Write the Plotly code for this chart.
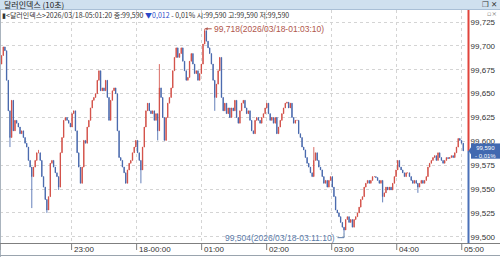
import plotly.graph_objects as go
import pandas as pd

# ---------------- data ----------------
closes = [
    99.681, 99.690, 99.699, 99.695, 99.664, 99.632, 99.604, 99.643, 99.611, 99.622,
    99.619, 99.615, 99.608, 99.611, 99.604, 99.598, 99.594, 99.580, 99.573, 99.563,
    99.573, 99.580, 99.588, 99.588, 99.580, 99.563, 99.552, 99.539, 99.528, 99.542,
    99.577, 99.580, 99.573, 99.567, 99.563, 99.552, 99.588, 99.604, 99.622, 99.625,
    99.622, 99.619, 99.615, 99.629, 99.632, 99.611, 99.588, 99.573, 99.556, 99.573,
    99.601, 99.598, 99.615, 99.622, 99.635, 99.643, 99.646, 99.650, 99.664, 99.674,
    99.653, 99.656, 99.653, 99.664, 99.646, 99.622, 99.643, 99.653, 99.656, 99.650,
    99.611, 99.583, 99.580, 99.573, 99.567, 99.556, 99.570, 99.577, 99.580, 99.588,
    99.594, 99.601, 99.588, 99.580, 99.570, 99.594, 99.615, 99.632, 99.640, 99.632,
    99.629, 99.632, 99.622, 99.629, 99.611,
    99.656, 99.646, 99.625, 99.601, 99.625, 99.640, 99.646, 99.656, 99.674, 99.688,
    99.698, 99.688, 99.692, 99.698, 99.684, 99.674, 99.664, 99.667, 99.684, 99.692,
    99.681, 99.671, 99.674, 99.664, 99.671, 99.681, 99.702, 99.716, 99.705, 99.698,
    99.692, 99.681, 99.664, 99.646, 99.660, 99.674, 99.688, 99.646, 99.632, 99.640,
    99.629, 99.635, 99.625, 99.635, 99.632, 99.643, 99.625, 99.619, 99.632, 99.640,
    99.643, 99.635, 99.629, 99.632, 99.622, 99.611, 99.608, 99.622, 99.625, 99.622,
    99.619, 99.625, 99.629, 99.635, 99.640, 99.629, 99.622, 99.625, 99.619, 99.625,
    99.608, 99.615, 99.622, 99.629, 99.635, 99.640, 99.641, 99.635, 99.640, 99.625,
    99.619, 99.622, 99.622, 99.608,
    99.604, 99.594, 99.591, 99.583, 99.577, 99.573, 99.567, 99.563, 99.580, 99.588,
    99.580, 99.573, 99.570, 99.563, 99.556, 99.559, 99.552, 99.559, 99.563, 99.552,
    99.542, 99.528, 99.525, 99.521, 99.515, 99.510, 99.507, 99.518, 99.521, 99.515,
    99.518, 99.510, 99.518, 99.521, 99.525, 99.531, 99.539, 99.542, 99.552, 99.556,
    99.559, 99.556, 99.559, 99.563, 99.563, 99.562, 99.559, 99.556, 99.559, 99.542,
    99.546, 99.552, 99.549, 99.552, 99.549, 99.556, 99.563, 99.570, 99.580, 99.573,
    99.570, 99.567, 99.563, 99.567, 99.567, 99.563, 99.559, 99.556, 99.559, 99.556,
    99.552, 99.556, 99.559, 99.556, 99.559, 99.563, 99.573, 99.577, 99.580, 99.583,
    99.585, 99.580, 99.588, 99.583, 99.580, 99.577, 99.580, 99.583, 99.582, 99.583,
    99.585, 99.583, 99.588, 99.594, 99.603, 99.601, 99.598, 99.590,
]
first_open = 99.676
hi_idx = [23, 95, 122, 187]
hi_val = [99.591, 99.681, 99.718, 99.594]
lo_idx = [6, 19, 28, 35, 84, 94, 128, 205, 228, 249]
lo_val = [99.594, 99.530, 99.525, 99.549, 99.556, 99.601, 99.632, 99.504, 99.536, 99.546]

start_time = "2026-03-17 21:53:50"
end_time = "2026-03-18 05:01:20"
hour_ticks = ["2026-03-17 23:00", "2026-03-18 00:00", "2026-03-18 01:00", "2026-03-18 02:00",
              "2026-03-18 03:00", "2026-03-18 04:00", "2026-03-18 05:00"]
hour_labels = ["23:00", "18-00:00", "01:00", "02:00", "03:00", "04:00", "05:00"]
y_ticks = [99.500, 99.525, 99.550, 99.575, 99.600, 99.625, 99.650, 99.675, 99.700, 99.725]
y_tick_text = ["99,500", "99,525", "99,550", "99,575", "99,600", "99,625", "99,650", "99,675", "99,700", "99,725"]

title_text = "달러인덱스 (10초)"
max_text = "99,718(2026/03/18-01:03:10)"
min_text = "99,504(2026/03/18-03:11:10)"
price_text = "99,590"
pct_text = "- 0,01%"

# ---------------- candles ----------------
times = pd.date_range(start_time, end_time, periods=len(closes))
opens = [first_open] + closes[:-1]
highs = [max(o, c) for o, c in zip(opens, closes)]
lows = [min(o, c) for o, c in zip(opens, closes)]
for i, v in zip(hi_idx, hi_val):
    highs[i] = max(highs[i], v)
for i, v in zip(lo_idx, lo_val):
    lows[i] = min(lows[i], v)

UP = "#d0463e"
DN = "#3d5fa8"

fig = go.Figure(go.Candlestick(
    x=times, open=opens, high=highs, low=lows, close=closes,
    increasing=dict(line=dict(color=UP, width=0.8), fillcolor=UP),
    decreasing=dict(line=dict(color=DN, width=0.8), fillcolor=DN),
    whiskerwidth=0, hoverinfo="skip",
))

W, H = 500, 257
ML, MR, MT, MB = 0, 33, 10, 14
PW, PH = W - ML - MR, H - MT - MB


def px(x):
    return (x - ML) / PW


def py(y):
    return (H - MB - y) / PH


y_range = [99.4934, 99.7377]
x_range = ["2026-03-17 21:53:56", "2026-03-18 05:04:50"]

last_close = closes[-1]
imax = max(range(len(highs)), key=lambda i: highs[i])
imin = min(range(len(lows)), key=lambda i: lows[i])

NARROW = "Liberation Sans Narrow, Liberation Sans, sans-serif"
KFONT = "Liberation Sans Narrow, Noto Sans CJK KR, sans-serif"

shapes = []
# title bar
shapes.append(dict(type="rect", xref="paper", yref="paper", x0=px(0), x1=px(W), y0=py(9.5), y1=py(0),
                   fillcolor="#cfe0ef", line=dict(width=0), layer="above"))
shapes.append(dict(type="line", xref="paper", yref="paper", x0=px(0), x1=px(W), y0=py(9.5), y1=py(9.5),
                   line=dict(color="#a9bfd6", width=1)))
# left border
shapes.append(dict(type="line", xref="paper", yref="paper", x0=px(0.5), x1=px(0.5), y0=py(257), y1=py(9.5),
                   line=dict(color="#aab4be", width=1)))
# bottom axis line and bottom border
shapes.append(dict(type="line", xref="paper", yref="paper", x0=px(0), x1=px(W), y0=py(243.5), y1=py(243.5),
                   line=dict(color="#7f7f7f", width=1)))
shapes.append(dict(type="line", xref="paper", yref="paper", x0=px(0), x1=px(W), y0=py(255.5), y1=py(255.5),
                   line=dict(color="#9aa4ae", width=1)))
# right axis line: red above current price, blue below
shapes.append(dict(type="line", xref="paper", yref="y", x0=px(468.5), x1=px(468.5), y0=last_close, y1=y_range[1],
                   line=dict(color="#e0433b", width=2)))
shapes.append(dict(type="line", xref="paper", yref="y", x0=px(468.5), x1=px(468.5), y0=y_range[0], y1=last_close,
                   line=dict(color="#4a70b8", width=2)))
# current price box
shapes.append(dict(type="rect", xref="paper", yref="y", x0=px(471), x1=px(500), y0=last_close - 0.0082,
                   y1=last_close + 0.0078, fillcolor="#4169b0", line=dict(width=0), layer="above"))
shapes.append(dict(type="path", xref="paper", yref="y", layer="above",
                   path=f"M {px(468.5)},{last_close} L {px(471.5)},{last_close + 0.0045} L {px(471.5)},{last_close - 0.0045} Z",
                   fillcolor="#4169b0", line=dict(width=0)))
# x tick marks
for t in [start_time] + hour_ticks:
    shapes.append(dict(type="line", xref="x", yref="paper", x0=t, x1=t, y0=py(243.5), y1=py(250),
                       line=dict(color="#7f7f7f", width=1)))
# min connector
shapes.append(dict(type="line", xref="x", yref="y", x0=times[imin] - pd.Timedelta(minutes=6), x1=times[imin],
                   y0=99.4990, y1=99.4990, line=dict(color="#5a7aa8", width=1)))
shapes.append(dict(type="line", xref="x", yref="y", x0=times[imin], x1=times[imin],
                   y0=99.4990, y1=lows[imin], line=dict(color="#5a7aa8", width=1)))

annotations = []
annotations.append(dict(xref="paper", yref="paper", x=px(3), y=py(4.6), text=title_text, showarrow=False,
                        xanchor="left", yanchor="middle", borderpad=0,
                        font=dict(family="Noto Sans CJK KR", size=8, color="#1a1a1a")))
annotations.append(dict(xref="paper", yref="paper", x=px(498), y=py(4.5), text="❐ ✕", showarrow=False,
                        xanchor="right", yanchor="middle", borderpad=0,
                        font=dict(family="DejaVu Sans", size=7.5, color="#333333")))
info = ("▮&lt;달러인덱스&gt;2026/03/18-05:01:20 종:99,590 "
        "<span style='color:#2a48c8'>▼0,012</span> - 0,01% 시:99,590 고:99,590 저:99,590")
annotations.append(dict(xref="paper", yref="paper", x=px(1), y=py(15.2), text=info, showarrow=False,
                        xanchor="left", yanchor="middle", borderpad=0,
                        font=dict(family=KFONT, size=7, color="#333333")))
annotations.append(dict(xref="paper", yref="paper", x=px(498), y=py(13.6), text="▫×", showarrow=False,
                        xanchor="right", yanchor="middle", borderpad=0,
                        font=dict(family="DejaVu Sans", size=6.5, color="#888888")))
# max annotation
annotations.append(dict(xref="x", yref="y", x=times[imax], y=highs[imax], text=max_text, showarrow=True,
                        arrowhead=2, arrowsize=0.6, arrowwidth=1, arrowcolor="#b0564c", ax=7, ay=0,
                        xanchor="left", yanchor="middle",
                        font=dict(family=NARROW, size=8.5, color="#b0564c")))
# min annotation
annotations.append(dict(xref="x", yref="y", x=times[imin] - pd.Timedelta(minutes=6), y=99.4990, text=min_text,
                        showarrow=False, xanchor="right", yanchor="middle", xshift=-1,
                        font=dict(family=NARROW, size=8.5, color="#5a7aa8")))
# x labels
for t, lab in zip([start_time] + hour_ticks, ["2026/03/17-21:53:50"] + hour_labels):
    annotations.append(dict(xref="x", yref="paper", x=t, y=py(249), text=lab, showarrow=False,
                            xanchor="left", yanchor="middle", xshift=0,
                            font=dict(family=NARROW, size=8, color="#333333")))
# price box text (two lines in one label)
annotations.append(dict(xref="paper", yref="y", x=px(485.5), y=last_close, yshift=-1,
                        text=price_text + "<br>" + pct_text,
                        showarrow=False, xanchor="center", yanchor="middle", borderpad=0,
                        font=dict(family=NARROW, size=6, color="white")))

fig.update_layout(
    width=W, height=H, margin=dict(l=ML, r=MR, t=MT, b=MB),
    paper_bgcolor="white", plot_bgcolor="white", showlegend=False, boxgap=0.65,
    xaxis=dict(type="date", range=x_range, rangeslider=dict(visible=False), tickvals=hour_ticks,
               showticklabels=False, showgrid=True, gridcolor="#d4d4d4", griddash="dot", gridwidth=1,
               zeroline=False, showline=False, ticks=""),
    yaxis=dict(side="right", range=y_range, tickvals=y_ticks, ticktext=y_tick_text,
               showgrid=True, gridcolor="#d4d4d4", griddash="dot", gridwidth=1, zeroline=False,
               showline=False, ticks="outside", ticklen=1, tickcolor="rgba(0,0,0,0)",
               tickfont=dict(family=NARROW, size=8, color="#333333")),
    shapes=shapes, annotations=annotations,
)

fig.write_html("out.html")
